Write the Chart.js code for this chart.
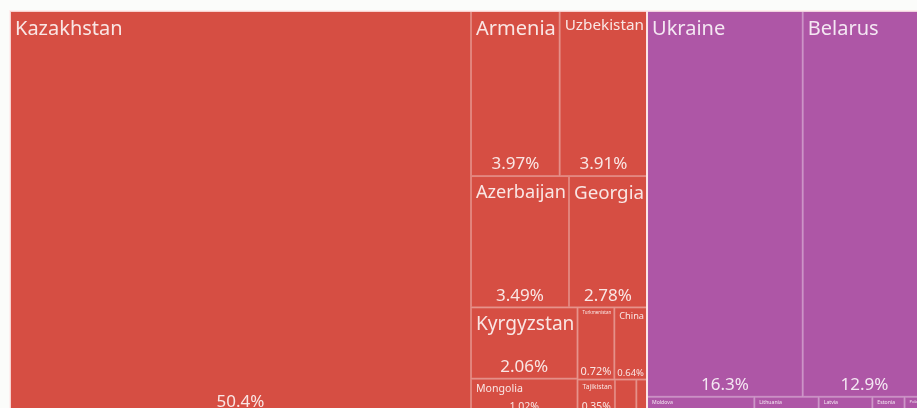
<!DOCTYPE html>
<html>
<head>
<meta charset="utf-8">
<script src="https://cdn.jsdelivr.net/npm/chart.js@4.4.1/dist/chart.umd.min.js"></script>
<style>
  html, body { margin: 0; padding: 0; background: #fbfcfa; overflow: hidden; }
  #wrap { position: absolute; left: 0; top: 0; width: 929px; height: 416px; }
</style>
</head>
<body>
<div id="wrap"><canvas id="treemap" width="929" height="416"></canvas></div>
<script>
// share of total (%) per country, grouped by region
const countries = ['Kazakhstan', 'Armenia', 'Uzbekistan', 'Azerbaijan', 'Georgia', 'Kyrgyzstan',
                   'Mongolia', 'Turkmenistan', 'China', 'Tajikistan', 'Afghanistan', 'Iran',
                   'Ukraine', 'Belarus', 'Moldova', 'Lithuania', 'Latvia', 'Estonia', 'Poland'];
const shares = [50.4, 3.97, 3.91, 3.49, 2.78, 2.06,
                1.02, 0.72, 0.64, 0.35, 0.2, 0.1,
                16.3, 12.9, 0.5, 0.3, 0.25, 0.15, 0.1];
const regionOf = [0, 0, 0, 0, 0, 0,
                  0, 0, 0, 0, 0, 0,
                  1, 1, 1, 1, 1, 1, 1];
const regions = ['Asia', 'Europe'];
const regionColors = ['#d64e43', '#ae56a6'];

const PHI = (1 + Math.sqrt(5)) / 2;

// squarified layout (same idea as d3.treemapSquarify), coords in data units,
// kx / ky turn data units into pixels so the aspect ratios are right
function squarify(nodes, x0, y0, x1, y1, kx, ky) {
  let value = nodes.reduce((s, n) => s + n.value, 0);
  let i0 = 0, i1 = 0;
  const n = nodes.length;
  while (i0 < n) {
    const dx = (x1 - x0) * kx, dy = (y1 - y0) * ky;
    let sum = nodes[i1++].value;
    let minV = sum, maxV = sum;
    const alpha = Math.max(dy / dx, dx / dy) / (value * PHI);
    let beta = sum * sum * alpha;
    let minRatio = Math.max(maxV / beta, beta / minV);
    for (; i1 < n; ++i1) {
      const v = nodes[i1].value;
      sum += v;
      if (v < minV) minV = v;
      if (v > maxV) maxV = v;
      beta = sum * sum * alpha;
      const r = Math.max(maxV / beta, beta / minV);
      if (r > minRatio) { sum -= v; break; }
      minRatio = r;
    }
    const row = nodes.slice(i0, i1);
    if (dx < dy) {
      const yb = y0 + (y1 - y0) * sum / value;
      let x = x0;
      row.forEach(nd => {
        const w = (x1 - x0) * nd.value / sum;
        nd.x0 = x; nd.x1 = x + w; nd.y0 = y0; nd.y1 = yb;
        x += w;
      });
      y0 = yb;
    } else {
      const xb = x0 + (x1 - x0) * sum / value;
      let y = y0;
      row.forEach(nd => {
        const h = (y1 - y0) * nd.value / sum;
        nd.x0 = x0; nd.x1 = xb; nd.y0 = y; nd.y1 = y + h;
        y += h;
      });
      x0 = xb;
    }
    value -= sum;
    i0 = i1;
  }
}

function fitSize(ctx, text, size, maxW) {
  ctx.font = size + 'px "Noto Sans"';
  const w = ctx.measureText(text).width;
  return w > maxW ? size * maxW / w : size;
}

const treemapPlugin = {
  id: 'treemap',
  afterDatasetsDraw(chart) {
    const ctx = chart.ctx;
    const xs = chart.scales.x, ys = chart.scales.y;
    const kx = Math.abs(xs.getPixelForValue(1) - xs.getPixelForValue(0));
    const ky = Math.abs(ys.getPixelForValue(1) - ys.getPixelForValue(0));

    const groups = regions.map((name, g) => ({ name: name, color: regionColors[g], children: [] }));
    countries.forEach((c, i) => groups[regionOf[i]].children.push({ name: c, value: shares[i] }));
    groups.forEach(g => { g.value = g.children.reduce((s, c) => s + c.value, 0); });

    squarify(groups, 0, 0, 100, 100, kx, ky);
    groups.forEach(g => squarify(g.children, g.x0, g.y0, g.x1, g.y1, kx, ky));

    const px = nd => ({
      l: xs.getPixelForValue(nd.x0), r: xs.getPixelForValue(nd.x1),
      t: ys.getPixelForValue(nd.y0), b: ys.getPixelForValue(nd.y1)
    });

    ctx.save();
    groups.forEach(g => {
      g.children.forEach(c => {
        const p = px(c);
        ctx.fillStyle = g.color;
        ctx.fillRect(p.l, p.t, p.r - p.l, p.b - p.t);
        ctx.strokeStyle = 'rgba(255,255,255,0.3)';
        ctx.lineWidth = 1;
        ctx.strokeRect(p.l + 0.5, p.t + 0.5, p.r - p.l - 1, p.b - p.t - 1);
      });
    });
    groups.forEach(g => {
      const p = px(g);
      ctx.strokeStyle = 'rgba(255,235,235,0.75)';
      ctx.lineWidth = 2;
      ctx.strokeRect(p.l, p.t, p.r - p.l, p.b - p.t);
    });

    // labels
    ctx.fillStyle = 'rgba(255,255,255,0.86)';
    groups.forEach(g => {
      g.children.forEach(c => {
        const p = px(c);
        const w = p.r - p.l, h = p.b - p.t;
        const nameSize = Math.min(fitSize(ctx, c.name, 20, w - 8), h * 0.3);
        if (nameSize < 4) return;
        ctx.font = nameSize + 'px "Noto Sans"';
        ctx.textAlign = 'left';
        ctx.textBaseline = 'alphabetic';
        const nameBase = p.t + nameSize * 1.1 + 2;
        ctx.fillText(c.name, p.l + 5, nameBase);

        const pct = c.value + '%';
        const pctSize = Math.min(fitSize(ctx, pct, 17, w - 6), h * 0.3);
        const pctBase = p.b - Math.max(2, pctSize * 0.4);
        if (pctSize < 4 || pctBase - pctSize * 0.75 < nameBase + 2) return;
        ctx.font = pctSize + 'px "Noto Sans"';
        ctx.textAlign = 'center';
        ctx.fillText(pct, (p.l + p.r) / 2, pctBase);
      });
    });
    ctx.restore();
  }
};

new Chart(document.getElementById('treemap'), {
  type: 'scatter',
  data: { datasets: [{ label: 'Share', data: [], pointRadius: 0 }] },
  options: {
    responsive: false,
    animation: false,
    layout: { padding: { left: 10, top: 11, right: 3, bottom: 2 } },
    plugins: { legend: { display: false }, tooltip: { enabled: false } },
    scales: {
      x: { type: 'linear', min: 0, max: 100, display: false },
      y: { type: 'linear', min: 0, max: 100, reverse: true, display: false }
    }
  },
  plugins: [treemapPlugin]
});
</script>
</body>
</html>
